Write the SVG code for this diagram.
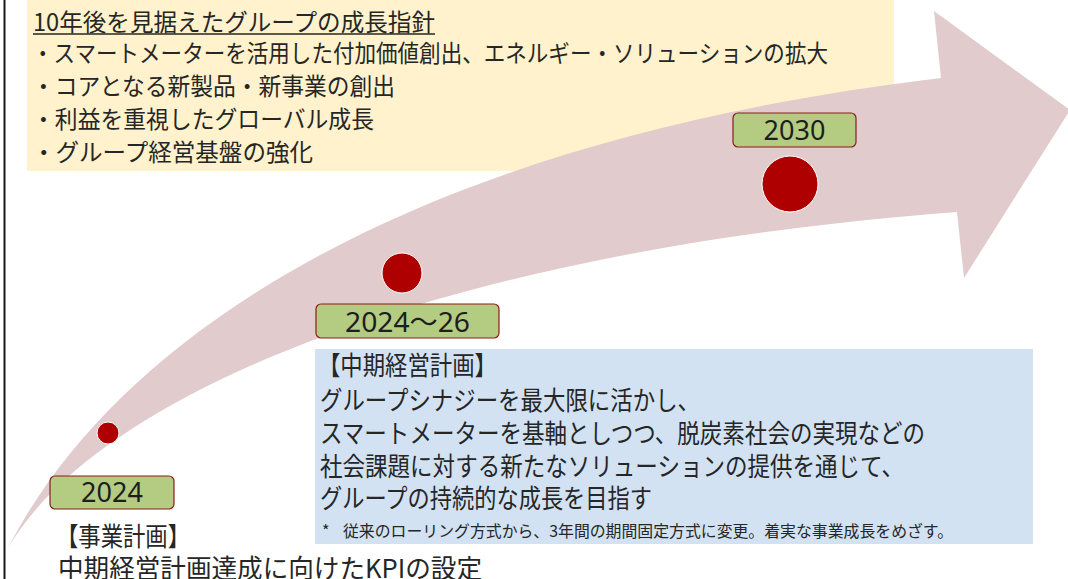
<svg xmlns="http://www.w3.org/2000/svg" width="1068" height="579" viewBox="0 0 1068 579">
<style>
.t{font-family:"Noto Sans CJK JP","Noto Sans",sans-serif;fill:#262626}
.y{font-size:24px}
.b{font-size:26px}
.fn{font-size:16px}
.lbl{fill:#B4CB82;stroke:#8E1B1B;stroke-width:1.2}
.num{font-family:"Noto Sans","Noto Sans CJK JP",sans-serif;font-size:27px;fill:#1E1E1E;text-anchor:middle}
.dot{fill:#AE0000;stroke:#FFFFFF;stroke-width:1}
</style>
<rect width="1068" height="579" fill="#FFFFFF"/>
<line x1="4.5" y1="0" x2="4.5" y2="579" stroke="#1A1A1A" stroke-width="2"/>

<g id="vision">
<rect x="27" y="0" width="867" height="171" fill="#FFF2CC"/>
<text class="t y" x="33" y="31" textLength="402" lengthAdjust="spacingAndGlyphs">10年後を見据えたグループの成長指針</text>
<line x1="33" y1="34" x2="435" y2="34" stroke="#262626" stroke-width="1.5"/>
<text class="t y" x="32" y="62" textLength="796" lengthAdjust="spacingAndGlyphs">・スマートメーターを活用した付加価値創出、エネルギー・ソリューションの拡大</text>
<text class="t y" x="32" y="95" textLength="363" lengthAdjust="spacingAndGlyphs">・コアとなる新製品・新事業の創出</text>
<text class="t y" x="32" y="128" textLength="342" lengthAdjust="spacingAndGlyphs">・利益を重視したグローバル成長</text>
<text class="t y" x="32" y="161" textLength="281" lengthAdjust="spacingAndGlyphs">・グループ経営基盤の強化</text>
</g>

<g id="arrow">
<path d="M8,548 C120,330 420,140 941,78 L934,11 L1070,110 L964,278 L957,212 C450,250 100,390 8,548 Z" fill="#E1CBCC"/>
</g>

<g id="m2030">
<rect class="lbl" x="733" y="113" width="123" height="34" rx="5"/>
<text class="num" x="794.5" y="140">2030</text>
<circle class="dot" cx="790" cy="184" r="28"/>
</g>

<g id="m2026">
<circle class="dot" cx="402" cy="273" r="20"/>
<rect class="lbl" x="316" y="304" width="183" height="34" rx="5"/>
<text class="num" x="407.5" y="332" textLength="125" lengthAdjust="spacingAndGlyphs">2024～26</text>
</g>

<g id="m2024">
<circle class="dot" cx="108" cy="433" r="11"/>
<rect class="lbl" x="50" y="476" width="124" height="33" rx="5"/>
<text class="num" x="112" y="502">2024</text>
</g>

<g id="midplan">
<rect x="315" y="349" width="718" height="195" fill="#D2E2F2"/>
<text class="t b" x="318" y="375" textLength="179" lengthAdjust="spacingAndGlyphs">【中期経営計画】</text>
<text class="t b" x="320" y="410" textLength="380" lengthAdjust="spacingAndGlyphs">グループシナジーを最大限に活かし、</text>
<text class="t b" x="320" y="443" textLength="605" lengthAdjust="spacingAndGlyphs">スマートメーターを基軸としつつ、脱炭素社会の実現などの</text>
<text class="t b" x="320" y="476" textLength="584" lengthAdjust="spacingAndGlyphs">社会課題に対する新たなソリューションの提供を通じて、</text>
<text class="t b" x="320" y="508" textLength="332" lengthAdjust="spacingAndGlyphs">グループの持続的な成長を目指す</text>
<text class="t fn" x="322" y="537">*</text>
<text class="t fn" x="343" y="537" textLength="610" lengthAdjust="spacingAndGlyphs">従来のローリング方式から、3年間の期間固定方式に変更。着実な事業成長をめざす。</text>
</g>

<g id="bizplan">
<text class="t b" x="56" y="546" textLength="134" lengthAdjust="spacingAndGlyphs">【事業計画】</text>
<text class="t b" x="58" y="578" textLength="424" lengthAdjust="spacingAndGlyphs">中期経営計画達成に向けたKPIの設定</text>
</g>
</svg>
